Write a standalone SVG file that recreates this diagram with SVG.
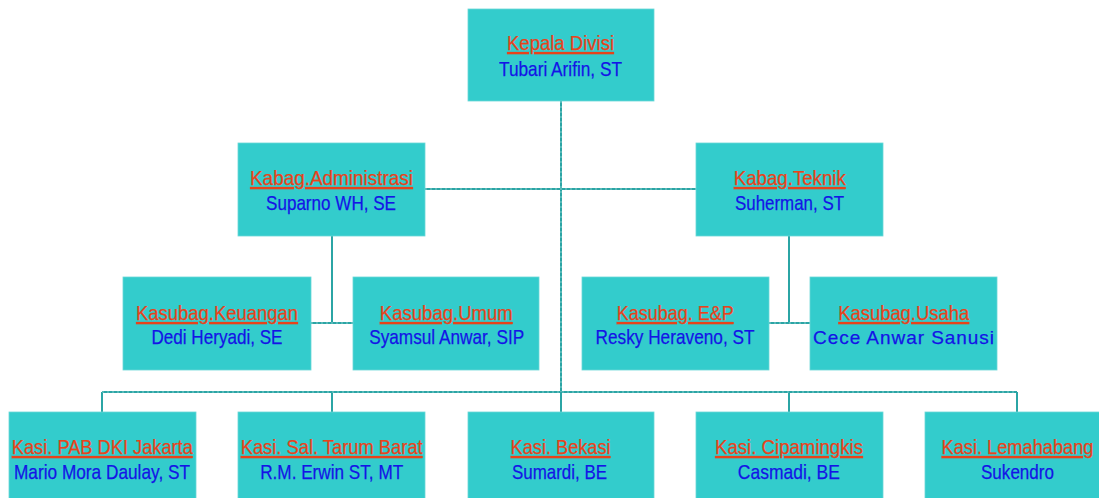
<svg xmlns="http://www.w3.org/2000/svg" width="1099" height="498" viewBox="0 0 1099 498">
<style>
.box{fill:#33CCCC;stroke:#6ad8d8;stroke-width:0.8}
.t{font-family:"Liberation Sans",Arial,sans-serif;font-size:21px;text-anchor:middle;fill:#E8431B;stroke:#E8431B;stroke-width:0.25;text-decoration:underline}
.n{font-family:"Liberation Sans",Arial,sans-serif;font-size:21px;text-anchor:middle;fill:#1414E6;stroke:#1414E6;stroke-width:0.25}
.c{fill:none;stroke:#2ba5a5;stroke-width:2}
.d{fill:none;stroke:#9ad6d6;stroke-width:0.8;stroke-dasharray:2 3}
</style>
<rect width="1099" height="498" fill="#ffffff"/>
<g id="connectors">
<path class="c" d="M561,101V392M425,189H696M332,236V323M311,323H353M789,236V323M769,323H810M102,392H1017M102,392V412M332,392V412M561,392V412M789,392V412M1017,392V412"/>
<path class="d" d="M561,101V392M425,189H696M311,323H353M769,323H810M102,392H1017"/>
</g>
<g id="kepala"><rect class="box" x="468" y="9" width="186" height="92"/>
<text class="t" x="560.5" y="50" textLength="107" lengthAdjust="spacingAndGlyphs">Kepala Divisi</text>
<text class="n" x="560.5" y="75.5" textLength="123" lengthAdjust="spacingAndGlyphs">Tubari Arifin, ST</text></g>
<g id="kabag-admin"><rect class="box" x="238" y="143" width="187" height="93"/>
<text class="t" x="331.5" y="185" textLength="163" lengthAdjust="spacingAndGlyphs">Kabag.Administrasi</text>
<text class="n" x="331" y="210" textLength="130" lengthAdjust="spacingAndGlyphs">Suparno WH, SE</text></g>
<g id="kabag-teknik"><rect class="box" x="696" y="143" width="187" height="93"/>
<text class="t" x="789.8" y="185" textLength="112" lengthAdjust="spacingAndGlyphs">Kabag.Teknik</text>
<text class="n" x="789.5" y="210" textLength="109" lengthAdjust="spacingAndGlyphs">Suherman, ST</text></g>
<g id="kasubag-keuangan"><rect class="box" x="123" y="277" width="188" height="93"/>
<text class="t" x="217" y="320" textLength="162" lengthAdjust="spacingAndGlyphs">Kasubag.Keuangan</text>
<text class="n" x="217" y="344" textLength="131" lengthAdjust="spacingAndGlyphs">Dedi Heryadi, SE</text></g>
<g id="kasubag-umum"><rect class="box" x="353" y="277" width="186" height="93"/>
<text class="t" x="446.3" y="320" textLength="133" lengthAdjust="spacingAndGlyphs">Kasubag.Umum</text>
<text class="n" x="446.7" y="344" textLength="155" lengthAdjust="spacingAndGlyphs">Syamsul Anwar, SIP</text></g>
<g id="kasubag-ep"><rect class="box" x="582" y="277" width="187" height="93"/>
<text class="t" x="675.2" y="320" textLength="117" lengthAdjust="spacingAndGlyphs">Kasubag. E&amp;P</text>
<text class="n" x="675" y="344" textLength="159" lengthAdjust="spacingAndGlyphs">Resky Heraveno, ST</text></g>
<g id="kasubag-usaha"><rect class="box" x="810" y="277" width="187" height="93"/>
<text class="t" x="903.7" y="320" textLength="131" lengthAdjust="spacingAndGlyphs">Kasubag.Usaha</text>
<text class="n" x="903.5" y="344" style="font-size:19px" textLength="181" lengthAdjust="spacing">Cece Anwar  Sanusi</text></g>
<g id="kasi-pab"><rect class="box" x="9" y="412" width="187" height="92"/>
<text class="t" x="102.3" y="454" textLength="181" lengthAdjust="spacingAndGlyphs">Kasi. PAB DKI Jakarta</text>
<text class="n" x="102" y="479" textLength="176" lengthAdjust="spacingAndGlyphs">Mario Mora Daulay, ST</text></g>
<g id="kasi-tarum"><rect class="box" x="238" y="412" width="187" height="92"/>
<text class="t" x="331.7" y="454" textLength="182" lengthAdjust="spacingAndGlyphs">Kasi. Sal. Tarum Barat</text>
<text class="n" x="331.7" y="479" textLength="143" lengthAdjust="spacingAndGlyphs">R.M. Erwin ST, MT</text></g>
<g id="kasi-bekasi"><rect class="box" x="468" y="412" width="186" height="92"/>
<text class="t" x="560.6" y="454" textLength="100" lengthAdjust="spacingAndGlyphs">Kasi. Bekasi</text>
<text class="n" x="559.5" y="479" textLength="95" lengthAdjust="spacingAndGlyphs">Sumardi, BE</text></g>
<g id="kasi-cipamingkis"><rect class="box" x="696" y="412" width="187" height="92"/>
<text class="t" x="789" y="454" textLength="148" lengthAdjust="spacingAndGlyphs">Kasi. Cipamingkis</text>
<text class="n" x="788.8" y="479" textLength="102" lengthAdjust="spacingAndGlyphs">Casmadi, BE</text></g>
<g id="kasi-lemahabang"><rect class="box" x="925" y="412" width="187" height="92"/>
<text class="t" x="1017.5" y="454" textLength="152" lengthAdjust="spacingAndGlyphs">Kasi. Lemahabang</text>
<text class="n" x="1017.5" y="479" textLength="73" lengthAdjust="spacingAndGlyphs">Sukendro</text></g>
</svg>
